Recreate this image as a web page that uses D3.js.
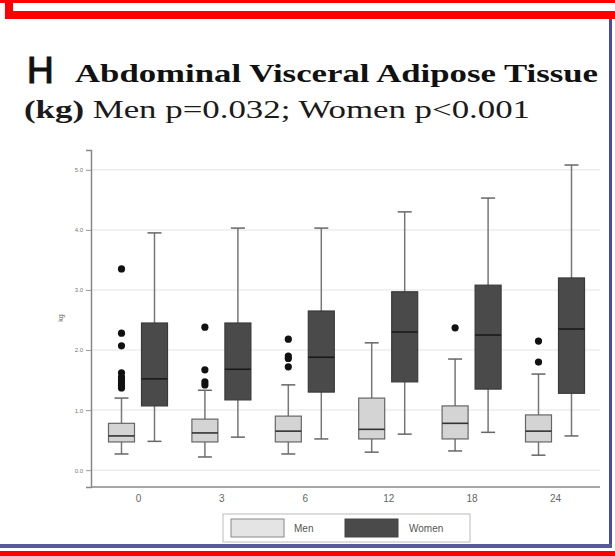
<!DOCTYPE html>
<html><head><meta charset="utf-8">
<script src="https://cdn.jsdelivr.net/npm/d3@7"></script>
<style>body{margin:0;background:#fff}svg{display:block}</style>
</head><body>
<script>
const months = ["0","3","6","12","18","24"];
const groups = ["Men","Women"];
const yTicks = [0,1,2,3,4,5];
// [lowWhisker, Q1, median, Q3, highWhisker]
const menStats = [
  [0.27,0.47,0.57,0.78,1.20],
  [0.22,0.47,0.62,0.85,1.33],
  [0.27,0.47,0.65,0.90,1.42],
  [0.30,0.52,0.68,1.20,2.12],
  [0.32,0.52,0.78,1.07,1.85],
  [0.25,0.47,0.65,0.92,1.60]
];
const womenStats = [
  [0.48,1.07,1.52,2.45,3.95],
  [0.55,1.17,1.68,2.45,4.03],
  [0.52,1.30,1.88,2.65,4.03],
  [0.60,1.47,2.30,2.97,4.30],
  [0.63,1.35,2.25,3.08,4.53],
  [0.57,1.28,2.35,3.20,5.08]
];
const menOutliers = [
  [3.35,2.28,2.07,1.62,1.55,1.50,1.45,1.40,1.37],
  [2.38,1.67,1.47,1.42],
  [2.18,1.90,1.86,1.72],
  [],
  [2.37],
  [2.15,1.80]
];
const womenOutliers = [[],[],[],[],[],[]];

const W=615,H=556;
const svg=d3.select("body").append("svg").attr("width",W).attr("height",H);
svg.append("rect").attr("width",W).attr("height",H).attr("fill","#fff");

// frame decorations
svg.append("rect").attr("x",0).attr("y",0).attr("width",W).attr("height",3).attr("fill","#ff0000");
svg.append("rect").attr("x",5).attr("y",0).attr("width",8).attr("height",19).attr("fill","#ff0000");
svg.append("rect").attr("x",5).attr("y",11).attr("width",W-5).attr("height",8).attr("fill","#ff0000");
svg.append("rect").attr("x",609).attr("y",19).attr("width",3).attr("height",529).attr("fill","#4a4aa0");
svg.append("rect").attr("x",0).attr("y",544).attr("width",612).attr("height",4).attr("fill","#5a5a9a");
svg.append("rect").attr("x",0).attr("y",551).attr("width",W).attr("height",5).attr("fill","#ff0000");

// title
svg.append("text").attr("x",27).attr("y",83).attr("font-family","Liberation Sans, Arial, sans-serif")
  .attr("font-size",37).attr("fill","#111").attr("stroke","#111").attr("stroke-width",1.2).text("H");
svg.append("text").attr("x",75).attr("y",82).attr("font-family","Liberation Serif, Times New Roman, serif")
  .attr("font-weight","bold").attr("font-size",25).attr("fill","#111")
  .attr("textLength",523).attr("lengthAdjust","spacingAndGlyphs").text("Abdominal Visceral Adipose Tissue");
const t2=svg.append("text").attr("x",24).attr("y",118).attr("font-family","Liberation Serif, Times New Roman, serif")
  .attr("font-size",26).attr("fill","#1a1a1a").attr("textLength",506).attr("lengthAdjust","spacingAndGlyphs");
t2.append("tspan").attr("font-weight","bold").text("(kg)");
t2.append("tspan").text(" Men p=0.032; Women p<0.001");

// scales
const y=d3.scaleLinear().domain([-0.28,5.33]).range([487,150]);
const x=d3.scalePoint().domain(months).range([138,555]);
const off={Men:-16.5,Women:16.5};
const bw=26;

// gridlines
svg.append("g").selectAll("line").data(yTicks).join("line")
  .attr("x1",92).attr("x2",600).attr("y1",d=>y(d)).attr("y2",d=>y(d))
  .attr("stroke","#ececec").attr("stroke-width",1.5);

// axes
const yAxis=d3.axisLeft(y).tickValues(yTicks).tickSize(5).tickFormat(d3.format(".1f"));
const gy=svg.append("g").attr("transform","translate(91,0)").call(yAxis);
gy.select(".domain").attr("stroke","#888").attr("stroke-width",1.5);
gy.selectAll(".tick line").attr("stroke","#999");
gy.selectAll(".tick text").attr("font-family","Liberation Sans, Arial, sans-serif").attr("font-size",6).attr("fill","#777");
svg.append("text").attr("transform","translate(63,318) rotate(-90)").attr("text-anchor","middle")
  .attr("font-family","Liberation Sans, Arial, sans-serif").attr("font-size",7).attr("fill","#666").text("kg");

const xAxis=d3.axisBottom(x).tickSize(0).tickPadding(8);
const gx=svg.append("g").attr("transform","translate(0,487)").call(xAxis);
gx.select(".domain").attr("d","M91,0H600").attr("stroke","#888").attr("stroke-width",1.5);
gx.selectAll(".tick text").attr("font-family","Liberation Sans, Arial, sans-serif").attr("font-size",10).attr("fill","#666");

// boxes
function drawBoxes(stats,outs,g,fill,stroke,med){
  const gg=svg.append("g");
  stats.forEach((s,i)=>{
    const cx=x(months[i])+off[g];
    gg.append("line").attr("x1",cx).attr("x2",cx).attr("y1",y(s[0])).attr("y2",y(s[1])).attr("stroke","#777").attr("stroke-width",1.5);
    gg.append("line").attr("x1",cx).attr("x2",cx).attr("y1",y(s[3])).attr("y2",y(s[4])).attr("stroke","#777").attr("stroke-width",1.5);
    gg.append("line").attr("x1",cx-7).attr("x2",cx+7).attr("y1",y(s[0])).attr("y2",y(s[0])).attr("stroke","#666").attr("stroke-width",1.5);
    gg.append("line").attr("x1",cx-7).attr("x2",cx+7).attr("y1",y(s[4])).attr("y2",y(s[4])).attr("stroke","#666").attr("stroke-width",1.5);
    gg.append("rect").attr("x",cx-bw/2).attr("y",y(s[3])).attr("width",bw).attr("height",y(s[1])-y(s[3]))
      .attr("fill",fill).attr("stroke",stroke).attr("stroke-width",1.2);
    gg.append("line").attr("x1",cx-bw/2).attr("x2",cx+bw/2).attr("y1",y(s[2])).attr("y2",y(s[2])).attr("stroke",med).attr("stroke-width",1.6);
    outs[i].forEach(v=>{
      gg.append("circle").attr("cx",cx).attr("cy",y(v)).attr("r",3.6).attr("fill","#111");
    });
  });
}
drawBoxes(menStats,menOutliers,"Men","#d4d4d4","#666","#333");
drawBoxes(womenStats,womenOutliers,"Women","#4a4a4a","#3a3a3a","#1a1a1a");

// legend
const lg=svg.append("g");
lg.append("rect").attr("x",223).attr("y",514).attr("width",247).attr("height",28).attr("fill","#fff").attr("stroke","#bbb");
const items=[{k:"Men",fill:"#e4e4e4",stroke:"#888",x:231,tx:294},{k:"Women",fill:"#4a4a4a",stroke:"#444",x:345,tx:409}];
items.forEach(it=>{
  lg.append("rect").attr("x",it.x).attr("y",519).attr("width",53).attr("height",18).attr("fill",it.fill).attr("stroke",it.stroke);
  lg.append("text").attr("x",it.tx).attr("y",532).attr("font-family","Liberation Sans, Arial, sans-serif")
    .attr("font-size",10).attr("fill","#555").text(it.k);
});
</script>
</body></html>
